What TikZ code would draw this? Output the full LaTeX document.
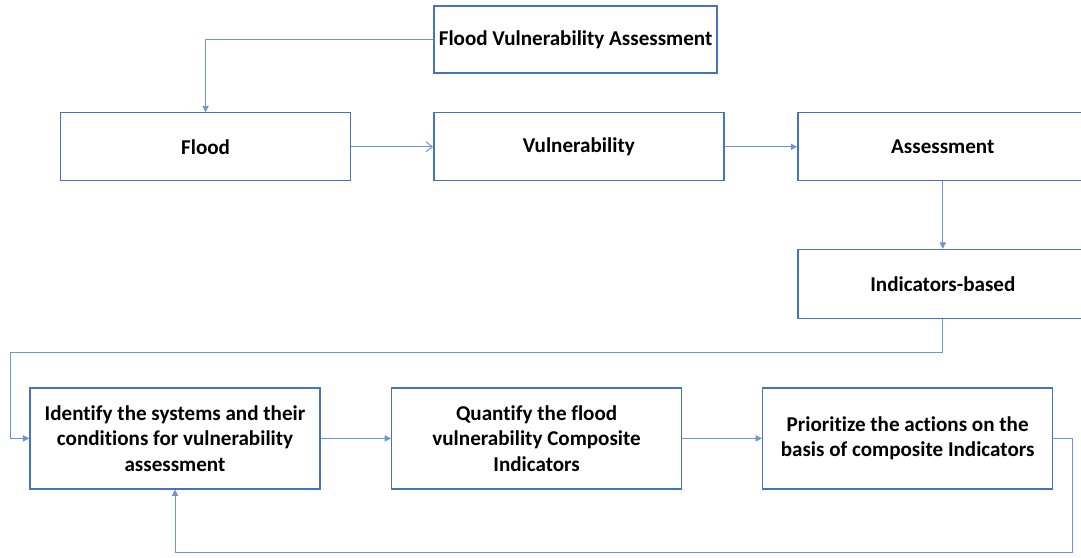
\documentclass[tikz,border=0pt]{standalone}
\usepackage{fontspec}
\setmainfont[Ligatures=NoCommon]{Carlito}
\usetikzlibrary{positioning,arrows.meta}
\definecolor{boxblue}{HTML}{4472C4}
\definecolor{lineblue}{HTML}{6F93D3}

\begin{document}
\begin{tikzpicture}[on grid,
    box/.style={draw=boxblue,line width=1pt,minimum width=7.25cm,minimum height=1.7cm,
                align=center,font=\fontsize{15}{18}\selectfont\bfseries},
    tallbox/.style={box,minimum height=2.525cm},
    link/.style={draw=lineblue,line width=0.7pt,-{Triangle[length=4.5pt,width=4.5pt]}},
    openlink/.style={draw=lineblue,line width=0.7pt,-{Straight Barb[length=4.5pt,width=7pt]}}]
    \clip (0,0) rectangle (27.025,13.95);

    \node[box]     (flood)  at (5.14,10.28)            {Flood};
    \node[box]     (vuln)   [right=9.33cm of flood]    {Vulnerability};
    \node[box]     (assess) [right=9.1cm of vuln]      {Assessment};
    \node[box,minimum width=7.075cm,minimum height=1.675cm]
                   (fva)    [above=2.68cm of vuln,xshift=-0.08cm] {Flood Vulnerability Assessment};
    \node[box,minimum height=1.725cm]
                   (indic)  [below=3.43cm of assess]   {Indicators-based};

    \node[tallbox] (ident)  at (4.375,2.99)            {Identify the systems and their\\conditions for vulnerability\\assessment};
    \node[tallbox] (quant)  [right=9.04cm of ident]    {Quantify the flood\\vulnerability Composite\\Indicators};
    \node[tallbox] (prior)  [right=9.275cm of quant]   {Prioritize the actions on the\\basis of composite Indicators};

    \coordinate (bendleft)  at (0.25,5.15);
    \coordinate (bendright) at (26.8,0.15);

    \path[link]     (fva.west)    -| (flood.north);
    \path[openlink] (flood)       -- (vuln);
    \path[link]     (vuln)        -- (assess);
    \path[link]     (assess)      -- (indic);
    \path[link]     (indic.south) |- (bendleft) |- (ident.west);
    \path[link]     (ident)       -- (quant);
    \path[link]     (quant)       -- (prior);
    \path[link]     (prior.east)  -| (bendright) -| (ident.south);
\end{tikzpicture}
\end{document}
